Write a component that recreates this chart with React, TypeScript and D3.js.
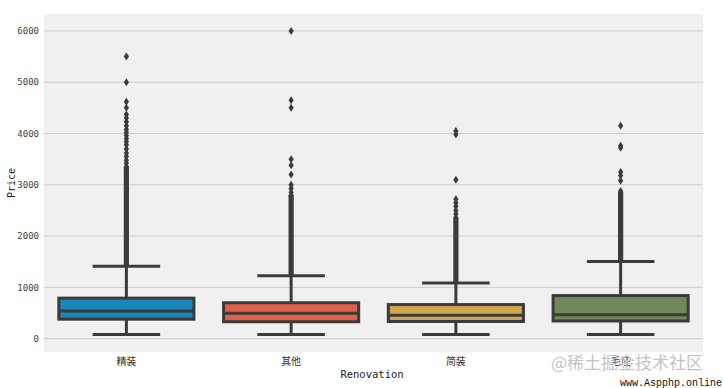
import React, { useEffect } from "react";
import * as d3 from "d3";

const width = 723;
const height = 388;

const categories = ["精装", "其他", "简装", "毛坯"];
const colors = ["#1b86ba", "#e26049", "#cfa64e", "#6e8857"];
const yTicks = [0, 1000, 2000, 3000, 4000, 5000, 6000];

// box stats
const q1 = [380, 330, 335, 345];
const medians = [540, 495, 455, 465];
const q3 = [790, 700, 665, 840];
const whiskerLow = [80, 80, 80, 80];
const whiskerHigh = [1410, 1225, 1085, 1505];

// isolated fliers
const fliers = [
  [5500, 5000, 4620, 4500, 4370, 4300, 4230, 4150, 4080, 4020, 3960, 3900, 3840, 3780, 3700, 3620, 3550, 3480, 3420, 3350],
  [6000, 4650, 4500, 3500, 3380, 3200, 3000, 2930, 2850, 2780],
  [4050, 3980, 3100, 2720, 2650, 2580, 2500, 2430, 2360],
  [4150, 3760, 3720, 3250, 3180, 3080, 2880, 2820],
];
// stretches where the fliers overlap into a solid column
const denseRuns = [
  [1420, 3300],
  [1240, 2750],
  [1100, 2300],
  [1520, 2800],
];

const panel = { left: 44, right: 703, top: 14, bottom: 352 };
const gray = "#3b3b3b";
const font = "'DejaVu Sans Mono', 'Noto Sans CJK SC', monospace";

export default function App() {
  useEffect(() => {
    document.body.style.margin = "0";
  }, []);

  const x = d3.scaleBand().domain(categories).range([panel.left, panel.right]).padding(0);
  const y = d3.scaleLinear().domain([-260, 6330]).range([panel.bottom, panel.top]);
  const boxW = x.bandwidth() * 0.82;
  const capW = boxW / 2;
  const diamond = "M0,-4L2.6,0L0,4L-2.6,0Z";

  return (
    <svg width={width} height={height} style={{ display: "block", background: "#fff" }}>
      <rect
        x={panel.left}
        y={panel.top}
        width={panel.right - panel.left}
        height={panel.bottom - panel.top}
        fill="#f0f0f0"
      />
      {yTicks.map((t) => (
        <g key={t}>
          <line x1={panel.left} x2={panel.right} y1={y(t)} y2={y(t)} stroke="#cbcbcb" strokeWidth={1} />
          <text x={39} y={y(t)} dy="0.35em" textAnchor="end" fontSize={9} fill="#444" fontFamily={font}>
            {t}
          </text>
        </g>
      ))}
      {categories.map((c, i) => {
        const cx = x(c)! + x.bandwidth() / 2;
        return (
          <g key={c}>
            <line x1={cx} x2={cx} y1={y(q3[i])} y2={y(whiskerHigh[i])} stroke={gray} strokeWidth={3} />
            <line x1={cx} x2={cx} y1={y(q1[i])} y2={y(whiskerLow[i])} stroke={gray} strokeWidth={3} />
            <line x1={cx - capW / 2} x2={cx + capW / 2} y1={y(whiskerHigh[i])} y2={y(whiskerHigh[i])} stroke={gray} strokeWidth={3} />
            <line x1={cx - capW / 2} x2={cx + capW / 2} y1={y(whiskerLow[i])} y2={y(whiskerLow[i])} stroke={gray} strokeWidth={3} />
            <rect
              x={cx - boxW / 2}
              y={y(q3[i])}
              width={boxW}
              height={y(q1[i]) - y(q3[i])}
              fill={colors[i]}
              stroke={gray}
              strokeWidth={3}
            />
            <line x1={cx - boxW / 2} x2={cx + boxW / 2} y1={y(medians[i])} y2={y(medians[i])} stroke={gray} strokeWidth={3} />
            <rect
              x={cx - 2.6}
              y={y(denseRuns[i][1]) - 3}
              width={5.2}
              height={y(denseRuns[i][0]) - y(denseRuns[i][1]) + 3}
              fill={gray}
            />
            {fliers[i].map((v, j) => (
              <path key={j} d={diamond} transform={`translate(${cx},${y(v)})`} fill={gray} />
            ))}
            <text x={cx} y={361} dy="0.35em" textAnchor="middle" fontSize={10} fill="#333" fontFamily={font}>
              {c}
            </text>
          </g>
        );
      })}
      <text x={372} y={374} dy="0.35em" textAnchor="middle" fontSize={10.5} fill="#222" fontFamily={font}>
        Renovation
      </text>
      <text
        transform={`translate(11,${(panel.top + panel.bottom) / 2}) rotate(-90)`}
        dy="0.35em"
        textAnchor="middle"
        fontSize={10}
        fill="#222"
        fontFamily={font}
      >
        Price
      </text>
      <text x={703} y={363} dy="0.35em" textAnchor="end" fontSize={17} fill="#c4c4c4" fontFamily="'Noto Sans CJK SC', sans-serif">
        @稀土掘金技术社区
      </text>
      <text x={722} y={382} dy="0.35em" textAnchor="end" fontSize={10} fill="#111" fontFamily="'Liberation Mono', monospace">
        www.Aspphp.online
      </text>
    </svg>
  );
}
